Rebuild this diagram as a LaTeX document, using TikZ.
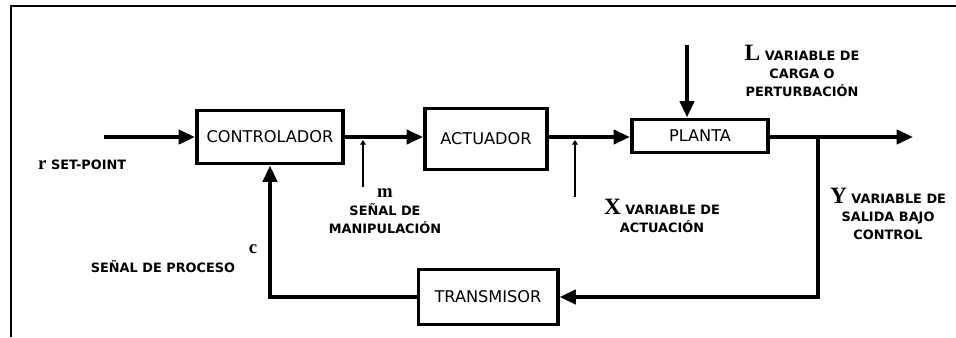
\documentclass[tikz,border=0pt]{standalone}
\usepackage{fontspec}
\setmainfont{DejaVu Sans}
\newfontfamily\letra{Liberation Serif}
\usetikzlibrary{arrows.meta}

\newcommand{\grande}[1]{{\letra\bfseries\fontsize{20}{20}\selectfont #1}}
\newcommand{\chica}[1]{{\letra\bfseries\fontsize{16}{16}\selectfont #1}}

\tikzset{
  bloque/.style={draw, line width=3.4pt, inner sep=0pt, font=\fontsize{13.8}{16}\selectfont},
  linea/.style={line width=3.4pt},
  flechita/.style={line width=2.2pt, -{Triangle[length=4pt,width=5pt]}},
  etiqueta/.style={inner sep=0pt, align=center, font=\bfseries\fontsize{11}{15.5}\selectfont}
}

\begin{document}
\begin{tikzpicture}[x=0.03cm, y=-0.03cm, >={Triangle[length=14pt,width=12pt]}]
  \useasboundingbox (0,0) rectangle (956,337);
  % Frame
  \draw[line width=1.6pt] (11,337) -- (11,6) -- (956,6);

  % Nodes
  \node[bloque, minimum width=4.38cm, minimum height=1.59cm] (ctrl) at (270,137) {CONTROLADOR};
  \node[bloque, minimum width=3.66cm, minimum height=1.83cm] (act) at (486,139) {ACTUADOR};
  \node[bloque, minimum width=4.08cm, minimum height=0.99cm] (planta) at (700,136) {PLANTA};
  \node[bloque, minimum width=4.17cm, minimum height=1.65cm] (trans) at (488,297) {TRANSMISOR};

  \coordinate (r) at (104,137);
  \coordinate (y) at (913,137);
  \coordinate (tap) at (818,137);
  \coordinate (l) at (687,45);
  \coordinate (m0) at (363,187);
  \coordinate (m1) at (363,140);
  \coordinate (x0) at (575,197);
  \coordinate (x1) at (575,140);

  % Labels
  \node[etiqueta, anchor=west] (sp) at (38,165) {\chica{r} SET-POINT};
  \node[etiqueta] (mlab) at (385,211) {\chica{m}\\SEÑAL DE\\MANIPULACIÓN};
  \node[etiqueta] (clab) at (253,249) {\chica{c}};
  \node[etiqueta] (proc) at (163,267) {SEÑAL DE PROCESO};
  \node[etiqueta] (xlab) at (662,216) {\grande{X} VARIABLE DE\\ACTUACIÓN};
  \node[etiqueta] (ylab) at (888,214) {\grande{Y} VARIABLE DE\\SALIDA BAJO\\CONTROL};
  \node[etiqueta] (llab) at (802,71) {\grande{L} VARIABLE DE\\CARGA O\\PERTURBACIÓN};

  % Arrows
  \draw[->, linea] (r) -- (r -| ctrl.west);
  \draw[->, linea] (ctrl.east |- r) -- (r -| act.west);
  \draw[->, linea] (act.east |- r) -- (r -| planta.west);
  \draw[->, linea] (planta.east |- r) -- (y);
  \draw[->, linea] (l) -- (l |- planta.north);
  \draw[->, linea] (tap) |- (trans.east);
  \draw[->, linea] (trans.west) -| (ctrl.south);
  \draw[flechita] (m0) -- (m1);
  \draw[flechita] (x0) -- (x1);
\end{tikzpicture}
\end{document}
